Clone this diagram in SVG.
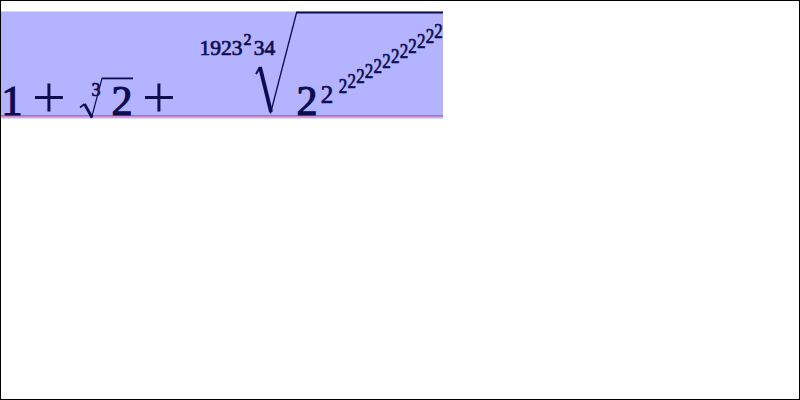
<svg xmlns="http://www.w3.org/2000/svg" width="800" height="400" viewBox="0 0 800 400">
<style>
.m{font-family:"Liberation Serif","Times New Roman",serif;fill:#0d0d50;stroke:#0d0d50;stroke-width:1.2;text-anchor:middle}
.s{stroke-width:0.7}
.t{font-size:20px;stroke-width:0.7}
.p{font-family:"Liberation Serif","Times New Roman",serif;fill:#0d0d50;text-anchor:middle}
.r{fill:none;stroke:#0d0d50;stroke-linecap:butt;stroke-linejoin:miter}
</style>
<rect x="0" y="0" width="800" height="400" fill="#ffffff"/>
<rect x="0" y="11.5" width="443" height="107" fill="#b3b3ff"/>
<line x1="0" y1="115.8" x2="443" y2="115.8" stroke="#dd5f82" stroke-width="1.6"/>
<g id="formula">
<text class="m" x="12" y="115" font-size="42">1</text>
<text class="p" x="49" y="117" font-size="60">+</text>
<g id="cuberoot">
<path class="r" d="M80,107.5 L84.5,104" stroke-width="1.6"/>
<path class="r" d="M84.5,104 L92,117.5" stroke-width="2.8"/>
<path class="r" d="M91.5,118 L102,78.3" stroke-width="1.2"/>
<path class="r" d="M101.7,78.4 H133" stroke-width="1.8"/>
<text class="m s" x="96" y="95.5" font-size="18">3</text>
<text class="m" x="122" y="115" font-size="42">2</text>
</g>
<text class="p" x="159" y="117" font-size="60">+</text>
<g id="bigroot">
<text class="m s" x="221" y="55" font-size="21.5">1923</text>
<text class="m s" x="247.5" y="45" font-size="16">2</text>
<text class="m s" x="264.5" y="55" font-size="21.5">34</text>
<path class="r" d="M256,74 L260,67" stroke-width="2"/>
<path class="r" d="M260,67 L271,112" stroke-width="3.8"/>
<path class="r" d="M270.5,113.5 L296.6,12.5" stroke-width="1.3"/>
<path class="r" d="M296,12.6 H443" stroke-width="2"/>
<text class="m" x="307" y="115" font-size="42">2</text>
<text class="m s" x="327" y="102.5" font-size="25">2</text>
<text class="m t" x="343" y="92.5" textLength="8.5" lengthAdjust="spacingAndGlyphs">2</text>
<text class="m t" x="351.7" y="87.5" textLength="8.5" lengthAdjust="spacingAndGlyphs">2</text>
<text class="m t" x="360.4" y="82.5" textLength="8.5" lengthAdjust="spacingAndGlyphs">2</text>
<text class="m t" x="369.1" y="77.5" textLength="8.5" lengthAdjust="spacingAndGlyphs">2</text>
<text class="m t" x="377.8" y="72.5" textLength="8.5" lengthAdjust="spacingAndGlyphs">2</text>
<text class="m t" x="386.5" y="67.5" textLength="8.5" lengthAdjust="spacingAndGlyphs">2</text>
<text class="m t" x="395.2" y="62.5" textLength="8.5" lengthAdjust="spacingAndGlyphs">2</text>
<text class="m t" x="403.9" y="57.5" textLength="8.5" lengthAdjust="spacingAndGlyphs">2</text>
<text class="m t" x="412.6" y="52.5" textLength="8.5" lengthAdjust="spacingAndGlyphs">2</text>
<text class="m t" x="421.3" y="47.5" textLength="8.5" lengthAdjust="spacingAndGlyphs">2</text>
<text class="m t" x="430" y="42.5" textLength="8.5" lengthAdjust="spacingAndGlyphs">2</text>
<text class="m t" x="438.5" y="37.5" textLength="8.5" lengthAdjust="spacingAndGlyphs">2</text>
</g>
</g>
<rect x="0.5" y="0.5" width="799" height="399" fill="none" stroke="#000000" stroke-width="1"/>
</svg>
